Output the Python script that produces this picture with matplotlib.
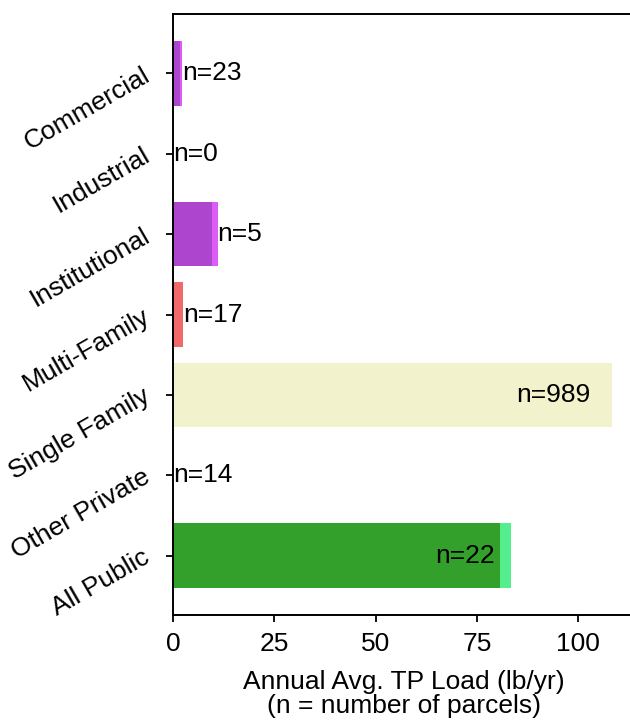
import numpy as np
import matplotlib
matplotlib.use("Agg")
import matplotlib.pyplot as plt

plt.rcParams['font.family'] = ['Liberation Sans', 'DejaVu Sans']

# land use categories, top to bottom
categories = ["Commercial", "Industrial", "Institutional", "Multi-Family",
              "Single Family", "Other Private", "All Public"]
# two stacked parts of the annual TP load (lb/yr)
load_main = [1.7, 0.0, 9.7, 2.4, 108.3, 0.0, 80.8]
load_extra = [0.5, 0.0, 1.3, 0.0, 0.0, 0.0, 2.7]
n_parcels = [23, 0, 5, 17, 989, 14, 22]

main_colors = ["#AE45CF", "#AE45CF", "#AE45CF", "#F06A6A", "#F2F2CC", "#F2F2CC", "#33A02C"]
extra_colors = ["#DC5CF6", "#DC5CF6", "#DC5CF6", "#F06A6A", "#F2F2CC", "#F2F2CC", "#55EE8E"]

fs = 19

fig = plt.figure(figsize=(6.3, 7.21), dpi=100)
ax = fig.add_axes([173 / 630, 106 / 721, 462 / 630, 601 / 721])

y = np.arange(len(categories))
ax.barh(y, load_main, height=0.8, color=main_colors)
ax.barh(y, load_extra, left=load_main, height=0.8, color=extra_colors)

for i, (a, b, n) in enumerate(zip(load_main, load_extra, n_parcels)):
    tot = a + b
    if tot > 50:
        ax.text(tot * 0.95, i, "n=%d" % n, ha="right", va="center", fontsize=fs)
    else:
        ax.text(tot, i, "n=%d" % n, ha="left", va="center", fontsize=fs)

ax.set_yticks(y)
ax.set_yticklabels(categories, rotation=30, ha="right", va="center",
                   rotation_mode="anchor", fontsize=fs)
ax.invert_yaxis()
ax.set_xlim(0, 114)
ax.set_xticks([0, 25, 50, 75, 100])
ax.tick_params(axis="both", labelsize=fs, length=5, width=1.3)
ax.tick_params(axis="x", pad=7)
ax.tick_params(axis="y", pad=13)
ax.set_xlabel("Annual Avg. TP Load (lb/yr)\n(n = number of parcels)", fontsize=fs,
              labelpad=10.5, linespacing=1.0)
for s in ax.spines.values():
    s.set_linewidth(1.4)
ax.spines["right"].set_visible(False)

fig.savefig("out.png", dpi=100)
